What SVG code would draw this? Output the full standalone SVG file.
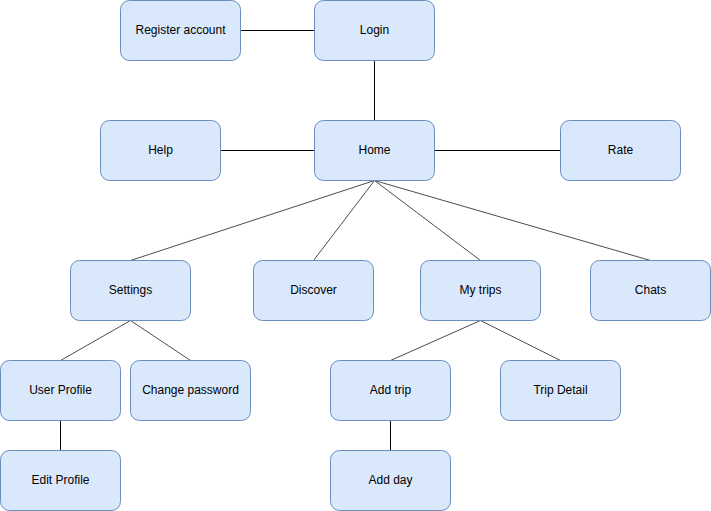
<svg xmlns="http://www.w3.org/2000/svg" width="711" height="511" viewBox="0 0 711 511">
<style>
.n rect{fill:#dae8fc;stroke:#6c8ebf;stroke-width:1}
.n text{font-family:"Liberation Sans",Arial,sans-serif;font-size:12px;fill:#000;text-anchor:middle;dominant-baseline:central}
.e line{stroke:#000;stroke-width:1}
.e line.d{stroke:#4d4d4d}
</style>
<rect width="711" height="511" fill="#fff"/>
<g class="e" id="connectors">
<line x1="240.5" y1="30.5" x2="314.5" y2="30.5"/>
<line x1="374.5" y1="60.5" x2="374.5" y2="120.5"/>
<line x1="220.5" y1="150.5" x2="314.5" y2="150.5"/>
<line x1="434.5" y1="150.5" x2="560.5" y2="150.5"/>
<line class="d" x1="374.5" y1="180.5" x2="130.5" y2="260.5"/>
<line class="d" x1="374.5" y1="180.5" x2="313.5" y2="260.5"/>
<line class="d" x1="374.5" y1="180.5" x2="480.5" y2="260.5"/>
<line class="d" x1="374.5" y1="180.5" x2="650.5" y2="260.5"/>
<line class="d" x1="130.5" y1="320.5" x2="60.5" y2="360.5"/>
<line class="d" x1="130.5" y1="320.5" x2="190.5" y2="360.5"/>
<line x1="60.5" y1="420.5" x2="60.5" y2="450.5"/>
<line class="d" x1="480.5" y1="320.5" x2="390.5" y2="360.5"/>
<line class="d" x1="480.5" y1="320.5" x2="560.5" y2="360.5"/>
<line x1="390.5" y1="420.5" x2="390.5" y2="450.5"/>
</g>
<g class="n" id="register"><rect x="120.5" y="0.5" width="120" height="60" rx="9"/><text x="180.5" y="29.5">Register account</text></g>
<g class="n" id="login"><rect x="314.5" y="0.5" width="120" height="60" rx="9"/><text x="374.5" y="29.5">Login</text></g>
<g class="n" id="help"><rect x="100.5" y="120.5" width="120" height="60" rx="9"/><text x="160.5" y="149.5">Help</text></g>
<g class="n" id="home"><rect x="314.5" y="120.5" width="120" height="60" rx="9"/><text x="374.5" y="149.5">Home</text></g>
<g class="n" id="rate"><rect x="560.5" y="120.5" width="120" height="60" rx="9"/><text x="620.5" y="149.5">Rate</text></g>
<g class="n" id="settings"><rect x="70.5" y="260.5" width="120" height="60" rx="9"/><text x="130.5" y="289.5">Settings</text></g>
<g class="n" id="discover"><rect x="253.5" y="260.5" width="120" height="60" rx="9"/><text x="313.5" y="289.5">Discover</text></g>
<g class="n" id="mytrips"><rect x="420.5" y="260.5" width="120" height="60" rx="9"/><text x="480.5" y="289.5">My trips</text></g>
<g class="n" id="chats"><rect x="590.5" y="260.5" width="120" height="60" rx="9"/><text x="650.5" y="289.5">Chats</text></g>
<g class="n" id="userprofile"><rect x="0.5" y="360.5" width="120" height="60" rx="9"/><text x="60.5" y="389.5">User Profile</text></g>
<g class="n" id="changepassword"><rect x="130.5" y="360.5" width="120" height="60" rx="9"/><text x="190.5" y="389.5">Change password</text></g>
<g class="n" id="addtrip"><rect x="330.5" y="360.5" width="120" height="60" rx="9"/><text x="390.5" y="389.5">Add trip</text></g>
<g class="n" id="tripdetail"><rect x="500.5" y="360.5" width="120" height="60" rx="9"/><text x="560.5" y="389.5">Trip Detail</text></g>
<g class="n" id="editprofile"><rect x="0.5" y="450.5" width="120" height="60" rx="9"/><text x="60.5" y="479.5">Edit Profile</text></g>
<g class="n" id="addday"><rect x="330.5" y="450.5" width="120" height="60" rx="9"/><text x="390.5" y="479.5">Add day</text></g>
</svg>
